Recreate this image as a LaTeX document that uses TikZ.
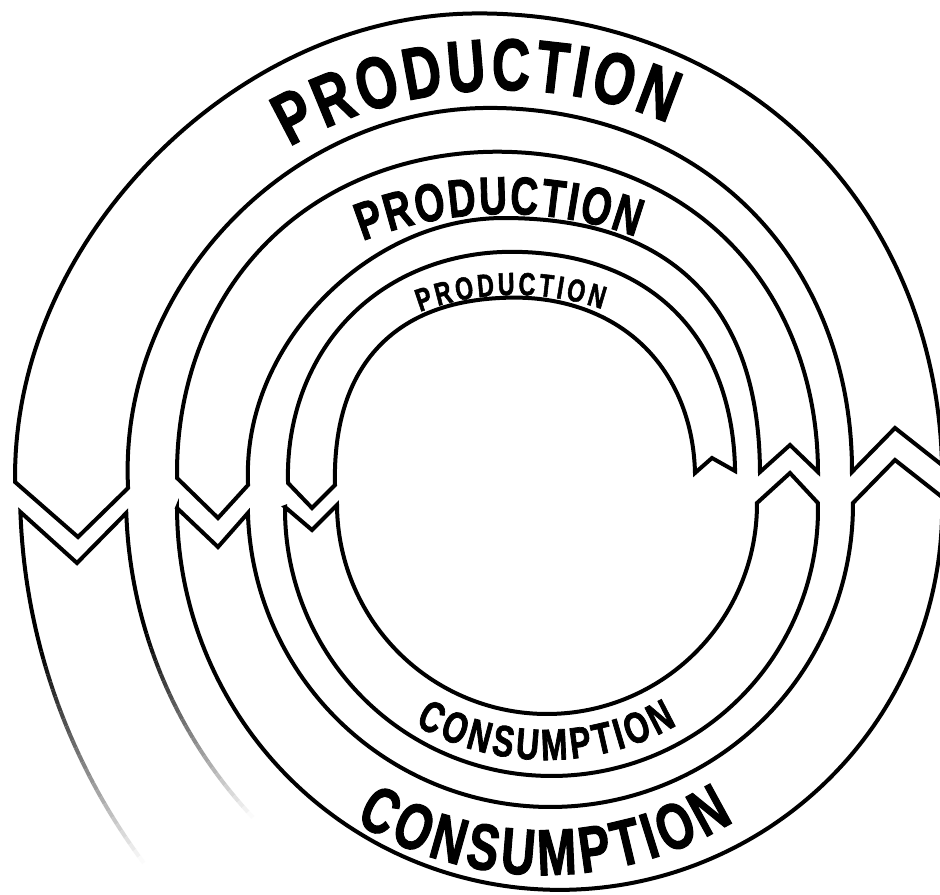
\documentclass[tikz,border=0pt]{standalone}
\usepackage{fontspec}
\newfontfamily\labelfont[FakeStretch=0.72, BoldFeatures={FakeBold=1.6}]{Liberation Sans}
\usetikzlibrary{decorations.text}
\tikzset{
  band/.style={draw=black, line width=3pt, line join=miter, miter limit=10},
  lbl/.style={decorate, decoration={text along path, text align={fit to path}, text color=black}},
  declare function={sprad(\u,\v,\p,\q)=\v+\p*(\u<0)*(\u>-90)*sin(2*\u)^2+\q*(\u<-90)*(\u>-180)*sin(2*\u)^2;}
}
\begin{document}
\begin{tikzpicture}[x=0.75pt,y=-0.75pt]
\clip (0,0) rectangle (940,895);
\fill[white] (0,0) rectangle (940,895);

% outer production band
\draw[band] plot[domain=-1.48:-180.62, samples=150] ({478.6+sprad(\x,463.6,6,-8)*cos(\x)},{477+sprad(\x,463.6,6,-8)*sin(\x)})
  -- (78,537)
  -- plot[domain=-182.83:0.30, samples=150] ({489.8+sprad(\x,362.2,6,-3)*cos(\x)},{470.1+sprad(\x,362.2,6,-3)*sin(\x)})
  -- (895,428) -- cycle;

% middle production band
\draw[band] plot[domain=-0.04:-181.04, samples=150] ({497.5+sprad(\x,320.5,6,5)*cos(\x)},{472.2+sprad(\x,320.5,6,5)*sin(\x)})
  -- (218,518)
  -- plot[domain=-182.44:-0.47, samples=150] ({503.9+sprad(\x,256.1,14,-4)*cos(\x)},{474.1+sprad(\x,256.1,14,-4)*sin(\x)})
  -- (790,445) -- cycle;

% inner production band
\draw[band] plot[domain=-1.13:-181.95, samples=150] ({511.5+sprad(\x,223.6,8,3)*cos(\x)},{475.4+sprad(\x,223.6,8,3)*sin(\x)})
  -- (312,508)
  -- plot[domain=-182.32:-1.50, samples=150] ({514.95+sprad(\x,180.1,4,9)*cos(\x)},{477.7+sprad(\x,180.1,4,9)*sin(\x)})
  -- (712,458) -- cycle;

% inner consumption band
\draw[band] (285,507) -- (312,530)
  -- plot[domain=179.73:-0.27, samples=150] ({547+210*cos(\x)},{504+210*sin(\x)})
  -- (790,473)
  -- plot[domain=-1.40:180.54, samples=150] ({551.5+266.5*cos(\x)},{509.5+266.5*sin(\x)})
  -- cycle;

% outer consumption band
\draw[band] (177,508) -- (218,547)
  -- plot[domain=178.37:-0.27, samples=150] ({550.4+302.6*cos(\x)},{504.4+302.6*sin(\x)})
  -- (895,460)
  -- plot[domain=-1.54:179.9, samples=150] ({559.6+382.6*cos(\x)},{507.3+382.6*sin(\x)})
  -- cycle;

% fading outermost band (solid start)
\draw[band] plot[domain=165:177.98, samples=20] ({644+624*cos(\x)},{490+624*sin(\x)})
  -- (77,563) -- plot[domain=178.04:163, samples=20] ({594+468*cos(\x)},{497+468*sin(\x)});
% fading part
\foreach \i in {0,...,29}{
  \pgfmathsetmacro{\ta}{165-21.7*\i/30}
  \pgfmathsetmacro{\tb}{165-21.7*(\i+1)/30}
  \pgfmathsetmacro{\sh}{100-100*(\i+0.5)/30}
  \draw[line width=3pt, black!\sh] plot[domain=\ta:\tb, samples=3] ({644+624*cos(\x)},{490+624*sin(\x)});
  \pgfmathsetmacro{\tc}{163-26.2*\i/30}
  \pgfmathsetmacro{\td}{163-26.2*(\i+1)/30}
  \draw[line width=3pt, black!\sh] plot[domain=\tc:\td, samples=3] ({594+468*cos(\x)},{497+468*sin(\x)});
}

% labels
\path[lbl, decoration={text={|\labelfont\bfseries\fontsize{55}{55}\selectfont|PRODUCTION}}]
  plot[domain=-119.9:-67.3, samples=80] ({503+428*cos(\x)},{518+428*sin(\x)});
\path[lbl, decoration={text={|\labelfont\bfseries\fontsize{40}{40}\selectfont|PRODUCTION}}]
  plot[domain=-111.6:-70.2, samples=80] ({505+386*cos(\x)},{600+386*sin(\x)});
\path[lbl, decoration={text={|\labelfont\bfseries\fontsize{24}{24}\selectfont|PRODUCTION}}]
  plot[domain=-110.2:-71.56, samples=80] ({515+275*cos(\x)},{570+275*sin(\x)});
\path[lbl, decoration={text={|\labelfont\bfseries\fontsize{33}{33}\selectfont|CONSUMPTION}}]
  plot[domain=119.9:60.1, samples=80] ({546+263*cos(\x)},{497+263*sin(\x)});
\path[lbl, decoration={text={|\labelfont\bfseries\fontsize{49}{49}\selectfont|CONSUMPTION}}]
  plot[domain=121.3:58.5, samples=80] ({544+364*cos(\x)},{511+364*sin(\x)});
\end{tikzpicture}
\end{document}
